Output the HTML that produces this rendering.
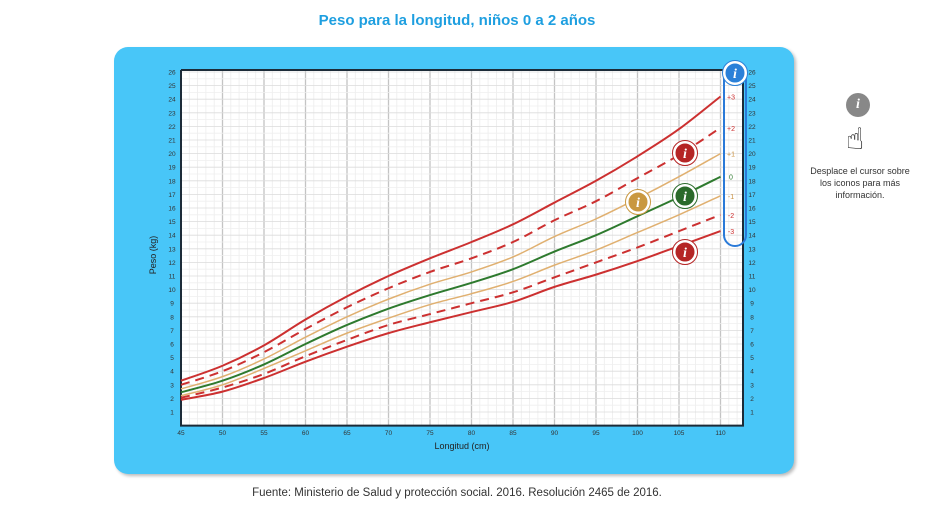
<!DOCTYPE html>
<html><head><meta charset="utf-8">
<style>
body{margin:0;width:940px;height:508px;background:#fff;font-family:"Liberation Sans",sans-serif;overflow:hidden;position:relative}
.t{position:absolute;white-space:nowrap}
</style></head>
<body>
<div class="t" style="left:0;width:914px;text-align:center;top:12px;font-size:15px;font-weight:bold;color:#1e9fe0">Peso para la longitud, niños 0 a 2 años</div>
<div style="position:absolute;left:114px;top:47px;width:680px;height:427px;background:#48c6f8;border-radius:14px;box-shadow:2px 2px 3px #bbb"></div>
<svg id="c" width="940" height="508" style="position:absolute;left:0;top:0"></svg>
<div class="t" style="left:0;width:914px;text-align:center;top:487px;font-size:11.5px;color:#333">Fuente: Ministerio de Salud y protección social. 2016. Resolución 2465 de 2016.</div>
<div style="position:absolute;left:846px;top:93px;width:24px;height:24px;border-radius:50%;background:#888;color:#fff;font:bold italic 14px 'Liberation Serif',serif;text-align:center;line-height:24px">i</div>
<div class="t" style="left:846px;top:122px;font-size:30px;color:#111;font-family:'DejaVu Sans',sans-serif">☝&#xFE0E;</div>
<div class="t" style="left:810px;width:100px;top:165px;text-align:center;font-size:9px;line-height:12px;color:#333;white-space:normal">Desplace el cursor sobre los iconos para más información.</div>
<script>
const lengths=[45,50,55,60,65,70,75,80,85,90,95,100,105,110];
const sdM3=[1.9,2.5,3.5,4.7,5.8,6.8,7.6,8.35,9.1,10.2,11.1,12.1,13.2,14.3];
const sdM2=[2.05,2.8,3.8,5.1,6.3,7.4,8.2,9.0,9.8,10.9,12.0,13.1,14.3,15.5];
const sdM1=[2.2,3.0,4.2,5.5,6.8,7.9,8.9,9.7,10.6,11.8,12.9,14.2,15.5,16.9];
const sd0=[2.45,3.3,4.5,6.0,7.4,8.6,9.6,10.5,11.5,12.8,14.0,15.4,16.8,18.3];
const sdP1=[2.7,3.6,4.9,6.5,8.0,9.3,10.4,11.3,12.4,13.9,15.2,16.7,18.3,20.0];
const sdP2=[3.0,4.0,5.4,7.1,8.7,10.1,11.3,12.3,13.5,15.1,16.5,18.2,19.9,21.9];
const sdP3=[3.3,4.4,5.9,7.8,9.5,11.0,12.3,13.5,14.8,16.4,18.0,19.8,21.8,24.2];
const xTicks=[45,50,55,60,65,70,75,80,85,90,95,100,105,110];
const yTicks=[1,2,3,4,5,6,7,8,9,10,11,12,13,14,15,16,17,18,19,20,21,22,23,24,25,26];
const NS="http://www.w3.org/2000/svg",svg=document.getElementById('c');
const X0=181,Y0=425.6,PX=8.3,PY=13.6;
const sx=v=>X0+(v-45)*PX, sy=v=>Y0-v*PY;
function mk(t,a,p){const e=document.createElementNS(NS,t);for(const k in a)e.setAttribute(k,a[k]);(p||svg).appendChild(e);return e;}
const R=743,T=70;
const bg=mk('rect',{x:X0,y:T,width:R-X0,height:Y0-T,fill:'#fff'});


for(let v=45;v<=112;v+=1){const x=sx(v);mk('line',{x1:x,x2:x,y1:T,y2:Y0,stroke:v%5==0?'#c4c4c4':'#ececec','stroke-width':v%5==0?1.3:0.8});}
for(let k=0.5;k<=26.5;k+=0.5){const y=sy(k);if(y<T)break;mk('line',{x1:X0,x2:R,y1:y,y2:y,stroke:k%1==0?'#dcdcdc':'#efefef','stroke-width':0.8});}
mk('polyline',{points:`${X0},${T} ${X0},${Y0} ${R},${Y0} ${R},${T} ${X0},${T}`,fill:'none',stroke:'#1c2b38','stroke-width':2});
xTicks.forEach(v=>{const t=mk('text',{x:sx(v),y:435,'font-size':6.5,'text-anchor':'middle',fill:'#333'});t.textContent=v;

});
yTicks.forEach(v=>{[172,752].forEach(x=>{const t=mk('text',{x:x,y:sy(v)+2.5,'font-size':6.5,'text-anchor':'middle',fill:'#333'});t.textContent=v;

});});
const xt=mk('text',{x:462,y:449,'font-size':9,'text-anchor':'middle',fill:'#222'});xt.textContent='Longitud (cm)';


const yt=mk('text',{x:0,y:0,'font-size':9,'text-anchor':'middle',fill:'#222',transform:'translate(156,255) rotate(-90)'});yt.textContent='Peso (kg)';


const RED='#cc3030',GOLD='#e0b070',GREEN='#2e7a2e';
const series=[[sdM3,RED,0,'-3','sd-minus-3'],[sdM2,RED,1,'-2','sd-minus-2'],[sdM1,GOLD,0,'-1','sd-minus-1'],[sd0,GREEN,0,'0','sd-0'],[sdP1,GOLD,0,'+1','sd-plus-1'],[sdP2,RED,1,'+2','sd-plus-2'],[sdP3,RED,0,'+3','sd-plus-3']];
function path(vals){let d='';const p=lengths.map((l,i)=>[sx(l),sy(vals[i])]);
d='M'+p[0][0]+','+p[0][1];for(let i=0;i<p.length-1;i++){const p0=p[i-1]||p[i],p1=p[i],p2=p[i+1],p3=p[i+2]||p2;
d+=` C${p1[0]+(p2[0]-p0[0])/6},${p1[1]+(p2[1]-p0[1])/6} ${p2[0]-(p3[0]-p1[0])/6},${p2[1]-(p3[1]-p1[1])/6} ${p2[0]},${p2[1]}`;}return d;}
series.forEach(s=>{const col=s[1];const w=(col==GOLD)?1.5:2;
const e=mk('path',{d:path(s[0]),fill:'none',stroke:col,'stroke-width':w,'stroke-dasharray':s[2]?'9,6':'none'});


const lt=mk('text',{x:731,y:sy(s[0][s[0].length-1])+3,'font-size':7,'text-anchor':'middle',fill:col==GOLD?'#c89040':col});lt.textContent=s[3];

});
const pill=mk('rect',{x:724,y:63,width:22,height:183,rx:11,fill:'none',stroke:'#2a7ad8','stroke-width':2});


function icon(x,y,c,name){const g=mk('g',{});


mk('circle',{cx:x,cy:y,r:11,fill:c,stroke:'#fff','stroke-width':3},g);mk('circle',{cx:x,cy:y,r:12.5,fill:'none',stroke:c,'stroke-width':1},g);
const t=mk('text',{x:x,y:y+5,'font-size':14,'font-weight':'bold','font-style':'italic','font-family':'Liberation Serif,serif','text-anchor':'middle',fill:'#fff'},g);t.textContent='i';}
icon(735,73,'#2a80d8','info-icon-legend');
icon(685,153,'#b52525','info-icon-upper-red');
icon(638,202,'#c99840','info-icon-gold');
icon(685,196,'#2a6a2a','info-icon-green');
icon(685,252,'#b52525','info-icon-lower-red');
</script>
</body></html>
